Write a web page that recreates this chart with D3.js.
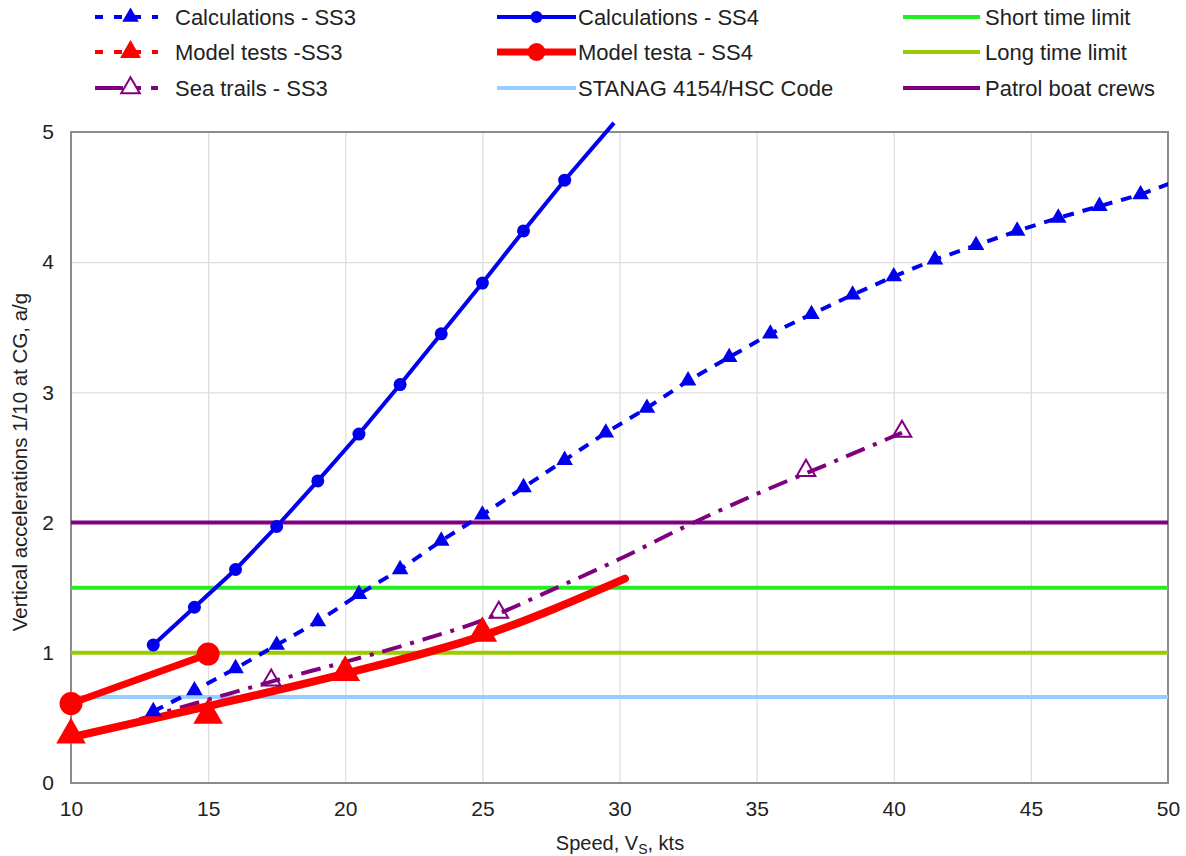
<!DOCTYPE html>
<html>
<head>
<meta charset="utf-8">
<script src="https://cdn.jsdelivr.net/npm/d3@7"></script>
<style>
  body { margin: 0; background: #fff; }
  svg { font-family: "Liberation Sans", Arial, sans-serif; }
</style>
</head>
<body>
<svg id="chart" width="1186" height="856"></svg>
<script>
//data (speed in kts, acceleration in g)
const calcSS4 = [[13,1.06],[14.5,1.35],[16,1.64],[17.5,1.97],[19,2.32],[20.5,2.68],[22,3.06],[23.5,3.45],[25,3.84],[26.5,4.24],[28,4.63],[29.8,5.07]];
const calcSS3 = [[13,0.55],[14.5,0.71],[16,0.88],[17.5,1.06],[19,1.24],[20.5,1.45],[22,1.64],[23.5,1.86],[25,2.06],[26.5,2.27],[28,2.48],[29.5,2.69],[31,2.88],[32.5,3.09],[34,3.27],[35.5,3.45],[37,3.6],[38.5,3.75],[40,3.89],[41.5,4.02],[43,4.13],[44.5,4.24],[46,4.34],[47.5,4.43],[49,4.52],[50.5,4.64]];
const modelSS3 = [[10,0.37],[15,0.52],[20,0.85],[25,1.15]];
const modelSS3Trend = [[10,0.35],[15,0.59],[20,0.84],[25,1.13],[30.2,1.57]];
const modelSS4 = [[10,0.61],[15,0.99]];
const seaSS3 = [[17.3,0.79],[25.6,1.31],[36.8,2.4],[40.3,2.7]];
const seaSS3Trend = [[12.5,0.49],[15,0.64],[17.5,0.79],[20,0.93],[22.5,1.08],[25,1.25],[27.5,1.48],[30,1.72],[32.5,1.98],[35,2.22],[37.5,2.44],[40.3,2.69]];
const limits = [
  {name: "Short time limit", value: 1.5, color: "#22ee22"},
  {name: "Long time limit", value: 1.0, color: "#99cc00"},
  {name: "Patrol boat crews", value: 2.0, color: "#800080"},
  {name: "STANAG 4154/HSC Code", value: 0.66, color: "#99ccff"}
];
const xTicks = [10,15,20,25,30,35,40,45,50];
const yTicks = [0,1,2,3,4,5];

const svg = d3.select("#chart");
const pLeft = 71, pRight = 1168, pTop = 132, pBottom = 783;

const x = d3.scaleLinear().domain([10, 50]).range([pLeft, pRight]);
const y = d3.scaleLinear().domain([0, 5]).range([pBottom, pTop]);

//clip paths
const defs = svg.append("defs");
defs.append("clipPath").attr("id", "clipLine")
  .append("rect").attr("x", pLeft).attr("y", 100).attr("width", pRight - pLeft).attr("height", pBottom - 100);
defs.append("clipPath").attr("id", "clipMark")
  .append("rect").attr("x", pLeft - 15).attr("y", pTop).attr("width", pRight - pLeft + 15).attr("height", pBottom - pTop + 20);

//grid
svg.append("g")
  .attr("transform", `translate(0, ${pBottom})`)
  .call(d3.axisBottom(x).tickValues(xTicks).tickSize(-(pBottom - pTop)).tickFormat(""))
  .call(g => g.select(".domain").remove())
  .selectAll(".tick line").attr("stroke", "#dcdcdc").attr("stroke-width", 1.2);
svg.append("g")
  .attr("transform", `translate(${pLeft}, 0)`)
  .call(d3.axisLeft(y).tickValues(yTicks).tickSize(-(pRight - pLeft)).tickFormat(""))
  .call(g => g.select(".domain").remove())
  .selectAll(".tick line").attr("stroke", "#dcdcdc").attr("stroke-width", 1.2);

//frame
svg.append("rect").attr("x", pLeft).attr("y", pTop).attr("width", pRight - pLeft).attr("height", pBottom - pTop)
  .attr("fill", "none").attr("stroke", "#8c8c8c").attr("stroke-width", 2);

//tick labels
svg.append("g")
  .attr("transform", `translate(0, ${pBottom})`)
  .call(d3.axisBottom(x).tickValues(xTicks).tickFormat(d3.format("d")).tickSize(0).tickPadding(18))
  .call(g => g.select(".domain").remove())
  .selectAll("text").attr("font-size", 21).attr("fill", "#222").attr("font-family", "Liberation Sans, Arial, sans-serif");
svg.append("g")
  .attr("transform", `translate(${pLeft}, 0)`)
  .call(d3.axisLeft(y).tickValues(yTicks).tickFormat(d3.format("d")).tickSize(0).tickPadding(17))
  .call(g => g.select(".domain").remove())
  .selectAll("text").attr("font-size", 21).attr("fill", "#222").attr("font-family", "Liberation Sans, Arial, sans-serif");

//axis titles
const xt = svg.append("text").attr("x", 620).attr("y", 850).attr("text-anchor", "middle")
  .attr("font-size", 20).attr("fill", "#222");
xt.append("tspan").text("Speed, V");
xt.append("tspan").attr("font-size", 14).attr("dy", 4).text("S");
xt.append("tspan").attr("dy", -4).text(", kts");
svg.append("text").attr("transform", "translate(27, 462) rotate(-90)").attr("text-anchor", "middle")
  .attr("font-size", 20.5).attr("fill", "#222").text("Vertical accelerations 1/10 at CG, a/g");

//horizontal limits
const limG = svg.append("g").attr("clip-path", "url(#clipLine)");
limits.forEach(l => {
  limG.append("line").attr("x1", pLeft).attr("x2", pRight).attr("y1", y(l.value)).attr("y2", y(l.value))
    .attr("stroke", l.color).attr("stroke-width", 4);
});

const line = d3.line().x(d => x(d[0])).y(d => y(d[1]));
const curve = d3.line().x(d => x(d[0])).y(d => y(d[1])).curve(d3.curveMonotoneX);
const tri = s => d3.symbol().type(d3.symbolTriangle).size(s)();

const plot = svg.append("g");
const lines = plot.append("g").attr("clip-path", "url(#clipLine)");
const marks = plot.append("g").attr("clip-path", "url(#clipMark)");

//sea trails
lines.append("path").datum(seaSS3Trend).attr("d", curve).attr("fill", "none")
  .attr("stroke", "#800080").attr("stroke-width", 4).attr("stroke-dasharray", "20,9,4,9");
marks.selectAll(".sea").data(seaSS3).join("path").attr("class", "sea")
  .attr("d", tri(150)).attr("transform", d => `translate(${x(d[0])}, ${y(d[1])})`)
  .attr("fill", "#fff").attr("fill-opacity", 0).attr("stroke", "#800080").attr("stroke-width", 2);

//calculations SS3
lines.append("path").datum(calcSS3).attr("d", line).attr("fill", "none")
  .attr("stroke", "#0000ee").attr("stroke-width", 4).attr("stroke-dasharray", "11,9");
marks.selectAll(".c3").data(calcSS3).join("path").attr("class", "c3")
  .attr("d", tri(120)).attr("transform", d => `translate(${x(d[0])}, ${y(d[1])})`)
  .attr("fill", "#0000ee");

//calculations SS4
lines.append("path").datum(calcSS4).attr("d", line).attr("fill", "none")
  .attr("stroke", "#0000ee").attr("stroke-width", 4);
marks.selectAll(".c4").data(calcSS4).join("circle").attr("class", "c4")
  .attr("cx", d => x(d[0])).attr("cy", d => y(d[1])).attr("r", 6.5).attr("fill", "#0000ee");

//model tests SS4
lines.append("path").datum(modelSS4).attr("d", line).attr("fill", "none")
  .attr("stroke", "#ff0000").attr("stroke-width", 7);
marks.selectAll(".m4").data(modelSS4).join("circle").attr("class", "m4")
  .attr("cx", d => x(d[0])).attr("cy", d => y(d[1])).attr("r", 11.5).attr("fill", "#ff0000");

//model tests SS3
lines.append("path").datum(modelSS3Trend).attr("d", curve).attr("fill", "none")
  .attr("stroke", "#ff0000").attr("stroke-width", 8).attr("stroke-linecap", "round");
marks.selectAll(".m3").data(modelSS3).join("path").attr("class", "m3")
  .attr("d", tri(380)).attr("transform", d => `translate(${x(d[0])}, ${y(d[1])})`)
  .attr("fill", "#ff0000");

//legend
const legend = [
  {label: "Calculations - SS3", col: 0, row: 0, color: "#0000ee", w: 4, dash: "8,11", mark: "tri", ms: 120},
  {label: "Model tests -SS3", col: 0, row: 1, color: "#ff0000", w: 4, dash: "8,11", mark: "tri", ms: 190},
  {label: "Sea trails - SS3", col: 0, row: 2, color: "#800080", w: 4, dash: "28,10,8,10", mark: "otri", ms: 150},
  {label: "Calculations - SS4", col: 1, row: 0, color: "#0000ee", w: 4, dash: null, mark: "circle", ms: 6},
  {label: "Model testa - SS4", col: 1, row: 1, color: "#ff0000", w: 7, dash: null, mark: "circle", ms: 9},
  {label: "STANAG 4154/HSC Code", col: 1, row: 2, color: "#99ccff", w: 4, dash: null, mark: null},
  {label: "Short time limit", col: 2, row: 0, color: "#22ee22", w: 4, dash: null, mark: null},
  {label: "Long time limit", col: 2, row: 1, color: "#99cc00", w: 4, dash: null, mark: null},
  {label: "Patrol boat crews", col: 2, row: 2, color: "#800080", w: 4, dash: null, mark: null}
];
const colX = [[95, 158, 175], [497, 576, 578], [903, 980, 985]];
const rowY = [17, 52, 88];
const lg = svg.append("g");
legend.forEach(d => {
  const [x0, x1, tx] = colX[d.col];
  const yy = rowY[d.row];
  const cx = (x0 + x1) / 2;
  const ln = lg.append("line").attr("x1", x0).attr("x2", x1).attr("y1", yy).attr("y2", yy)
    .attr("stroke", d.color).attr("stroke-width", d.w);
  if (d.dash) ln.attr("stroke-dasharray", d.dash);
  if (d.mark === "tri" || d.mark === "otri") {
    lg.append("path").attr("d", tri(d.ms)).attr("transform", `translate(${cx + 4}, ${yy})`)
      .attr("fill", d.mark === "tri" ? d.color : "#fff").attr("stroke", d.mark === "otri" ? d.color : "none")
      .attr("stroke-width", 2);
  } else if (d.mark === "circle") {
    lg.append("circle").attr("cx", cx).attr("cy", yy).attr("r", d.ms).attr("fill", d.color);
  }
  lg.append("text").attr("x", tx).attr("y", yy).attr("dy", "0.35em")
    .attr("font-size", 22).attr("fill", "#222").text(d.label);
});
</script>
</body>
</html>
